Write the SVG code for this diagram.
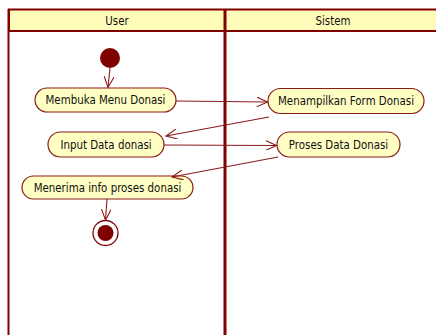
<svg xmlns="http://www.w3.org/2000/svg" width="436" height="335" viewBox="0 0 436 335">
<style>
.lane{fill:none;stroke:#800000;stroke-width:2}
.hdr{fill:#FFFBB9;stroke:#800000;stroke-width:2}
.act{fill:#FFFFC4;stroke:#8B1A1A;stroke-width:1.2}
.t{font-family:"DejaVu Sans Condensed","DejaVu Sans",sans-serif;font-size:11.4px;fill:#111;text-anchor:middle}
.c{fill:none;stroke:#8B1A1A;stroke-width:1.1}
</style>
<defs>
<marker id="ah" viewBox="0 0 12 10" refX="11" refY="5" markerWidth="12" markerHeight="10" markerUnits="userSpaceOnUse" orient="auto">
<path d="M0,0 L11,5 L0,10" fill="none" stroke="#8B1A1A" stroke-width="1.1"/>
</marker>
</defs>
<rect width="436" height="335" fill="#fff"/>
<g id="lanes">
<rect class="hdr" x="9" y="9.5" width="432" height="21.5"/>
<line class="lane" x1="8.5" y1="9" x2="8.5" y2="335"/>
<line x1="225" y1="9" x2="225" y2="335" stroke="#800000" stroke-width="3"/>
<text class="t" x="117" y="24.5">User</text>
<text class="t" x="333" y="24.5">Sistem</text>
</g>
<g id="start"><circle cx="110" cy="58" r="10" fill="#800000"/></g>
<g id="n1"><rect class="act" x="35" y="88" width="141" height="24" rx="12"/><text class="t" x="105.5" y="104">Membuka Menu Donasi</text></g>
<g id="n2"><rect class="act" x="268" y="88.5" width="156" height="25" rx="12.5"/><text class="t" x="346" y="105">Menampilkan Form Donasi</text></g>
<g id="n3"><rect class="act" x="48" y="132" width="116" height="25" rx="12.5"/><text class="t" x="106" y="148.5">Input Data donasi</text></g>
<g id="n4"><rect class="act" x="277" y="132" width="123" height="25" rx="12.5"/><text class="t" x="338.5" y="148.5">Proses Data Donasi</text></g>
<g id="n5"><rect class="act" x="22" y="176" width="171" height="23" rx="11.5"/><text class="t" x="107.5" y="191.5">Menerima info proses donasi</text></g>
<g id="end"><circle cx="105.5" cy="233" r="12.5" fill="#fff" stroke="#800000" stroke-width="1.3"/><circle cx="105.5" cy="233" r="8" fill="#800000"/></g>
<g id="connectors">
<line class="c" x1="110" y1="68" x2="108" y2="87.5" marker-end="url(#ah)"/>
<line class="c" x1="176" y1="101" x2="267.5" y2="102" marker-end="url(#ah)"/>
<line class="c" x1="269" y1="117" x2="166" y2="136" marker-end="url(#ah)"/>
<line class="c" x1="164" y1="145" x2="276.5" y2="145.5" marker-end="url(#ah)"/>
<line class="c" x1="278" y1="157" x2="172" y2="177" marker-end="url(#ah)"/>
<line class="c" x1="107" y1="199" x2="105.5" y2="220" marker-end="url(#ah)"/>
</g>
</svg>
